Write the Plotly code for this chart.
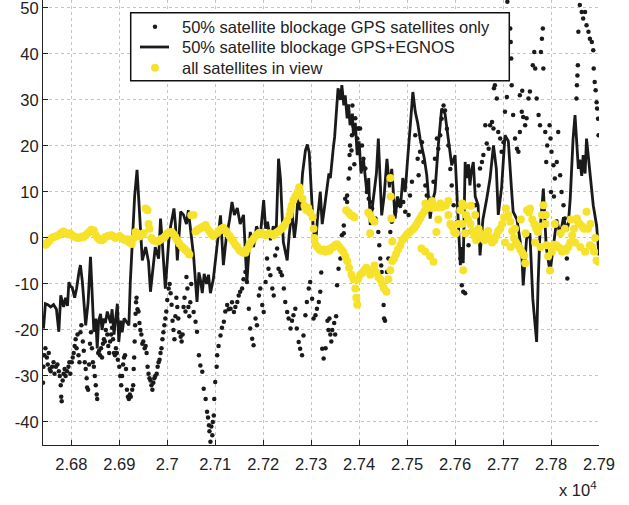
import plotly.graph_objects as go

# ---------------- data (time in s, error in m) ----------------
# 50% satellite blockage, GPS satellites only (black dots)
gps_t = [26741,26742,26744,26746,26749,26751,26753,26755,26757,26760,26763,26765,26768,26771,26774,26776,26778,26779,26780,26782,
 26784,26786,26788,26791,26794,26796,26798,26801,26803,26805,26807,26809,26811,26813,26815,26817,26819,26821,26824,26826,
 26828,26830,26832,26833,26835,26837,26839,26841,26843,26845,26847,26849,26851,26853,26854,26856,26858,26860,26862,26864,
 26866,26868,26870,26872,26875,26877,26879,26881,26883,26885,26887,26889,26891,26893,26895,26897,26900,26902,26904,26906,
 26908,26910,26912,26914,26916,26918,26920,26922,26924,26927,26929,26930,26931,26932,26933,26934,26935,26936,26938,26940,
 26942,26944,26946,26948,26950,26953,26955,26957,26959,26961,26963,26965,26967,26969,26971,26973,26975,26978,26980,26982,
 26984,26986,26988,26990,26992,26994,26996,26998,27000,27003,27005,27007,27009,27011,27013,27015,27017,27019,27021,27023,
 27025,27028,27030,27032,27034,27036,27038,27040,27042,27044,27046,27048,27050,27055,27059,27062,27066,27069,27073,27076,
 27080,27083,27085,27087,27088,27090,27092,27094,27095,27097,27098,27100,27103,27104,27107,27111,27114,27118,27121,27125,
 27128,27132,27135,27139,27142,27146,27149,27152,27156,27159,27163,27166,27170,27173,27177,27180,27184,27187,27191,27194,
 27198,27201,27205,27208,27211,27215,27219,27222,27225,27229,27232,27236,27239,27243,27246,27250,27253,27257,27260,27263,
 27267,27270,27274,27277,27281,27284,27288,27291,27295,27298,27302,27305,27309,27312,27316,27319,27321,27323,27326,27330,
 27334,27336,27338,27340,27342,27344,27348,27350,27352,27354,27357,27361,27364,27368,27371,27375,27378,27380,27381,27385,
 27386,27388,27392,27396,27399,27402,27406,27409,27413,27416,27420,27423,27427,27434,27440,27442,27444,27446,27447,27449,
 27451,27452,27454,27458,27461,27465,27468,27475,27479,27486,27492,27496,27503,27506,27510,27517,27522,27524,27527,27531,
 27534,27538,27541,27548,27555,27558,27562,27565,27569,27572,27576,27579,27583,27586,27590,27593,27597,27604,27611,27614,
 27617,27621,27628,27631,27642,27649,27652,27656,27659,27663,27666,27670,27673,27677,27680,27681,27683,27687,27690,27694,
 27697,27701,27704,27708,27709,27715,27716,27717,27718,27721,27725,27729,27732,27735,27739,27742,27746,27749,27753,27756,
 27762,27765,27767,27770,27774,27777,27779,27781,27783,27784,27788,27790,27792,27797,27799,27801,27805,27808,27812,27815,
 27819,27822,27826,27829,27833,27834,27853,27854,27855,27856,27857,27860,27864,27867,27871,27874,27878,27881,27885,27888,
 27889,27891,27893,27895,27896,27898,27899,27368,27375,27381,27384,27390,27398,27735,27740,27800,27806]
gps_err = [-31.5,-28,-25.5,-24,-26,-27.5,-25,-28.5,-29,-28,-27,-29.5,-28,-27.5,-29,-30,-32,-34.5,-35.5,-31,
 -29.5,-28.5,-30,-29,-28,-27,-29.5,-27,-26,-25,-23.5,-22,-24,-21,-25.5,-27,-20.5,-19,-22.5,-24.5,
 -27,-28.5,-30.5,-32.5,-33,-27.5,-23,-20.5,-24,-27,-28,-30,-32,-34,-35,-25,-24.5,-25.5,-24,-26,
 -23,-22,-22.5,-20,-21,-23.5,-25,-22.5,-21,-19.5,-22,-25,-25.5,-24,-25,-26.5,-28,-30,-32,-30,
 -27.5,-26,-25.5,-28.5,-33,-34.5,-35,-34,-34.5,-33,-32,-28.5,-26,-22.5,-19,-16.5,-14,-13,-15.5,-16,
 -18.5,-20,-21,-23,-22.5,-24,-23.5,-25,-28,-29.5,-30.5,-31,-32,-33,-31.5,-30.5,-30,-29.5,-28,-27,
 -26.5,-25,-24,-22,-20.5,-19,-17.5,-16,-13.5,-11,-10,-12,-14.5,-18,-20,-22,-17,-13,-15,-17.5,
 -20.5,-21.5,-22.5,-21,-15,-13,-16,-8.5,-11,-15,-17,-14,-10,-16.1,-18.2,-20.4,-25.5,-27.7,-29.1,-32.8,
 -35,-37.8,-39,-40.7,-42,-44.3,-41,-42.9,-40,-38.6,-35,-31.3,-28,-25.5,-23.5,-21.2,-19.5,-18.2,-16,-14.6,
 -15.5,-15.4,-14,-16.1,-15,-13.9,-12.5,-11.7,-11,-9,-7.4,-9.6,-15.4,-19.7,-21.9,-23.3,-17.5,-19,-12.5,-11,
 -14.6,-16.1,-9.6,-4.5,-6.7,-8.1,-11,-12.5,-3.8,-2.3,-6.7,-7.4,-8.1,-11,-13.9,-16.1,-17.5,-19.7,-18,-16.8,
 -15.4,-19.7,-22.6,-24.1,-25.5,-21.2,-16.8,-13.9,-11,-9.6,-13.2,-17.5,-16.8,-15.4,-13.9,-11.7,-7.5,-24.1,-26.2,-24,
 -18,-20,-17.5,-21,-22.5,-20,-18.5,-21,-17,-10.3,-6.7,-4.5,0.6,2.7,8.5,9.2,12.9,18,15.1,22.3,
 28.8,24.4,26,21.6,23.8,23.8,20.1,17.2,15.1,10,8.5,7.8,6.4,4.2,1.3,-1.6,-4.5,-6,-7.4,-11,
 -14.6,-17.5,-18,-7.4,-4.5,1.3,3.5,5.7,7.1,7.1,7.8,5.7,5,9.2,12.2,22.3,17.2,13.6,18.7,20.8,
 16.5,11.4,9.2,8.5,12.2,17.2,21.6,19.4,22.3,25.9,28.8,27.7,23.7,20.1,15,11.4,7.1,3.5,-4.5,-10.3,
 -11.7,-12,-1.6,1.3,7.1,11.4,15.1,16.5,18,24.5,20.5,19.4,24.5,25.2,23.8,32.5,33.2,30.3,23,21.6,
 18.7,20.8,27.4,30.6,51.3,45.5,42.6,39,33.2,26.7,21.6,19.4,18.7,23,27.4,26.3,24.5,26,30.3,31.8,
 37.5,40.4,36.8,30.3,26.7,24.5,40.4,43.3,45.5,36.8,23,16.5,20.1,24.5,21.6,18.7,15.8,12.9,16.5,23,
 13.6,10,7.1,4.2,-4.5,-8.8,30.3,33.2,35.3,37.5,44.8,50.6,49.1,47.7,49.1,46.2,44.8,43.3,42.6,40.8,
 36.8,33.9,32.1,29.5,28.1,25.9,22.3,1,7.8,20.1,19,16,23.8,31,32,10,9]

# 50% satellite blockage, GPS+EGNOS (black line)
egnos_t = [26742,26746,26751,26757,26763,26769,26774,26778,26784,26788,26792,26795,26798,26802,26807,26811,26816,26819,26823,26826,
 26830,26835,26840,26843,26847,26851,26854,26857,26861,26864,26868,26871,26875,26882,26885,26889,26892,26896,26899,26903,
 26906,26910,26917,26920,26923,26927,26932,26937,26940,26944,26948,26955,26961,26965,26971,26975,26982,26986,26990,26996,
 27003,27007,27014,27017,27021,27024,27028,27034,27040,27044,27048,27055,27062,27066,27069,27073,27077,27082,27086,27090,
 27096,27103,27107,27111,27117,27123,27130,27135,27140,27146,27152,27159,27166,27169,27173,27180,27186,27194,27201,27205,
 27209,27215,27221,27227,27232,27236,27242,27250,27254,27260,27265,27269,27273,27277,27282,27288,27292,27296,27300,27304,
 27309,27313,27319,27323,27327,27333,27337,27340,27343,27346,27349,27354,27356,27361,27364,27368,27371,27375,27378,27381,
 27386,27388,27392,27396,27400,27404,27409,27416,27420,27423,27429,27436,27440,27444,27447,27452,27458,27463,27468,27472,
 27475,27480,27486,27491,27496,27501,27506,27512,27517,27522,27527,27532,27536,27541,27545,27548,27553,27558,27565,27572,
 27579,27586,27593,27600,27604,27607,27611,27614,27617,27621,27624,27628,27631,27634,27638,27642,27648,27652,27658,27666,
 27673,27680,27686,27690,27697,27704,27711,27718,27721,27729,27733,27739,27742,27749,27756,27762,27766,27770,27773,27777,
 27784,27790,27798,27805,27812,27819,27826,27833,27836,27840,27846,27850,27853,27857,27860,27864,27867,27871,27874,27881,
 27888,27895,27900]
egnos_err = [-19.7,-14.3,-14.5,-15,-14.5,-15.5,-20.4,-12.5,-15,-13,-14.8,-9.6,-10.5,-10.8,-13,-11,-7.4,-5.9,-9.5,-13.2,
 -19,-14,-4.1,-11,-20.4,-17.5,-24,-18,-16.5,-20,-17.5,-18.5,-16,-18.5,-15.5,-21,-17.5,-14.3,-22.6,-18,
 -20.5,-17.5,-18.5,-19,-9.6,-2,9,14.8,10,3,-4.9,-2,-5.2,-11.7,-5,-2,-4.5,4.2,-1.5,-11,
 -0.8,2.5,6.4,3,-4.9,0.5,5.7,5,3,6,2,-4,-13.9,-7.5,-9,-12,-7.8,-10,-8,-12,
 -9,-2,2,4.9,-5.9,0,4,7.8,5,6.5,3,5,-9.6,-4,1.3,-2,2.5,0.5,8.2,2,
 3.5,-0.5,2.5,1,17.2,12.9,-0.9,-4.9,0.5,6,0,3.5,10,6,14,19,20.3,18.5,10,2.9,
 -2,4,10,3,6,11.4,14,13,17,19.4,22,31,32.5,30,33.2,28.8,31,26,29,24.5,
 27,22.3,25,18,21,14,17,10,13,2.8,8,14,21.6,12,4.9,9,17.2,11,15,9,
 4.2,9,6.5,13,10,17,23,31.7,27.4,25,21.6,19,17.2,13.6,9,4.2,8,10,20.1,28.1,
 27,21,15.8,18,9,1.3,-5.9,-2,-5.5,16.5,13,16,11.4,14.5,16.5,9,7.1,-3.8,4,8.5,
 13,20.1,15,5,11,22.3,21,10,5.7,4,1,-3.1,-10.3,-0.2,1,-13.2,-18,-22.6,-10,1.3,
 10.7,-2,-7.4,-2,4,0.5,4.5,1.5,3,8.5,21.6,26.7,21,15,17,13.5,18,14,21.6,15,
 7.1,2.7,-3.8]

# all satellites in view (yellow dots)
all_t = [26742,26747,26751,26755,26759,26763,26767,26772,26776,26780,26784,26788,26792,26797,26801,26805,26809,26813,26817,26822,
 26826,26830,26834,26838,26842,26847,26851,26855,26859,26863,26867,26871,26876,26880,26884,26888,26892,26896,26901,26905,
 26909,26913,26917,26921,26926,26930,26934,26938,26942,26946,26951,26955,26959,26961,26963,26967,26971,26976,26980,26984,
 26988,26992,26996,27000,27005,27009,27013,27017,27021,27025,27030,27034,27038,27042,27046,27050,27055,27059,27063,27067,
 27071,27075,27080,27084,27088,27092,27096,27100,27105,27109,27113,27117,27121,27125,27130,27134,27138,27142,27146,27150,
 27155,27159,27163,27167,27171,27175,27180,27184,27188,27192,27196,27200,27205,27209,27213,27217,27221,27226,27230,27234,
 27238,27242,27246,27250,27255,27257,27259,27263,27267,27271,27275,27277,27282,27286,27290,27294,27298,27303,27305,27307,
 27309,27313,27317,27321,27325,27330,27334,27338,27342,27346,27350,27354,27359,27363,27367,27371,27375,27379,27384,27388,
 27392,27394,27396,27398,27402,27407,27411,27415,27419,27423,27428,27432,27436,27440,27444,27448,27452,27457,27461,27465,
 27469,27473,27477,27481,27486,27490,27494,27498,27502,27506,27511,27515,27519,27523,27527,27531,27536,27540,27544,27548,
 27552,27556,27561,27565,27569,27573,27577,27581,27586,27590,27594,27598,27602,27606,27611,27615,27619,
 27373,27378,27382,27386,27390,27419,27423,27428,27432,27465,27466,27467,27469,27423,27530,27538,27548,27555,27561,27565,
 27538,27552,27569,27586,
 27615,27617,27621,27623,27627,27632,27633,27636,27640,27642,27644,27648,27649,27652,27656,27661,27665,27669,27673,27677,
 27682,27686,27690,27694,27698,27702,27704,27706,27711,27715,27716,27719,27723,27725,27727,27731,27736,27737,27740,27744,
 27746,27747,27750,27754,27756,27761,27765,27767,27769,27773,27777,27778,27781,27784,27788,27789,27791,27794,27798,27802,
 27806,27808,27811,27815,27819,27820,27823,27827,27829,27831,27836,27840,27841,27844,27848,27850,27854,27856,27860,27861,
 27865,27869,27871,27874,27877,27881,27882,27886,27890,27892,27895,27899]
all_err = [-1.2,-1.5,-1,-0.5,0,0.2,0.3,0.5,0.8,1.2,1.4,1,0.8,1,0.6,0.3,0.2,0,0,0.3,
 0.2,0.6,1,1.4,1.8,1.6,0.6,0,-0.4,-0.5,-0.3,0.2,0.4,0.5,0.6,0.3,0,0.2,0.4,0,
 -0.3,-0.5,-0.3,-1,-1.3,0,1.3,1,0.3,0.6,1,6.4,6,3,2,0,-0.5,-0.7,-0.8,-0.5,
 -0.2,0,0.4,1,1.2,1.3,0.8,0.2,-0.5,-1.2,-1.8,-2.2,-2.6,-3,-3.6,4.9,5,1.4,1.8,2,
 2.2,2.5,2.8,2,1.4,0.8,0.4,0.8,1.2,1.6,2,2.2,1.6,1,0.4,-0.2,-0.8,-1.5,-2,-2.6,
 -3,-3.2,-3.2,-2.4,-1.6,-0.8,-0.2,0.4,0.8,1.1,1,0.8,0.6,0.8,1,0.8,0.6,1,1.3,1.6,
 2,2.5,3,3.8,5,6,7,8.2,9,9.8,11,10,8.5,7,6,6.5,5.5,4.5,2,0,
 -1.5,-2,-2.5,-2.8,-2.5,-3,-2.5,-2.8,-2.2,-2,-1.6,-1.4,-2,-2.5,-3,-4,-5,-6.5,-8,-9,
 -11,-13,-14.5,-9,-8,-7.5,-7,-6.5,-7,-8,-7,-6,-7.5,-8.5,-9,-10,-11,-11.7,-9,-7,
 -5,-4.5,-3.5,-2.5,-1.6,-0.5,0,0.5,1,1.3,1.8,2.2,2.8,3.5,4.2,5,5.8,6.4,6.6,6.8,
 6.5,6.6,6.8,6.6,6.8,6.7,7,7.1,5,3,2.5,1.3,1,3,6,7.5,7,
 6,5.5,5,4.8,4.5,5.5,5,4,3.5,13,9,4.2,-0.8,1,-2.3,-3,-4,-5.2,1.3,4,
 7.5,8,7.5,8,
 3,-7,1,5,4,3,7,1.5,0.5,5,-0.5,0,2,1,0,-0.5,0.5,1.5,0,-1,
 -0.5,0.5,1.5,2,3,4.5,-1,6.4,5,3.5,-2,1.5,0,2,-1,-1.6,-2.5,4,-3.2,-3.8,
 -5.5,1,6,5.5,6.4,4,3,-1,2,1.3,2.5,-2,5,7.1,3,5,-1.6,-4,-7.1,-3,
 -1.5,3,-1.6,-2,-2.3,1,-3,-2.5,2,-2.8,-2,-1,4,0.5,2,-1,4.2,3.5,3,-2,
 2.5,2,-3,5.7,2,-1.6,3,-2,-3,0,-4.9,-5.2]

x_tickvals = [26800, 26900, 27000, 27100, 27200, 27300, 27400, 27500, 27600, 27700, 27800, 27900]
x_ticktext = ["2.68", "2.69", "2.7", "2.71", "2.72", "2.73", "2.74", "2.75", "2.76", "2.77", "2.78", "2.79"]
y_tickvals = [-40, -30, -20, -10, 0, 10, 20, 30, 40, 50]
y_ticktext = ["-40", "-30", "-20", "-10", "0", "10", "20", "30", "40", "50"]

series_names = ["50% satellite blockage GPS satellites only",
                "50% satellite blockage GPS+EGNOS",
                "all satellites in view"]

FONT = "Liberation Sans, Arial, Helvetica, sans-serif"
BLACK = "#1a1a1a"
YELLOW = "#f7e22b"
TXT = "#222222"

# plot area in pixels (for placing the legend box)
L, R, T, B = 43, 599, 0, 445
def px_x(p):
    return (p - L) / (R - L)
def px_y(p):
    return (B - p) / (B - T)

fig = go.Figure()
fig.add_trace(go.Scatter(
    x=gps_t, y=gps_err, mode="markers", name=series_names[0], showlegend=False,
    marker=dict(color=BLACK, size=4.5, line=dict(width=0)),
))
fig.add_trace(go.Scatter(
    x=egnos_t, y=egnos_err, mode="lines", name=series_names[1], showlegend=False,
    line=dict(color=BLACK, width=2.8),
))
fig.add_trace(go.Scatter(
    x=all_t, y=all_err, mode="markers", name=series_names[2], showlegend=False,
    marker=dict(color=YELLOW, size=8, line=dict(width=0)),
))

# legend drawn as box + symbols + text
row_y = [26.7, 47.0, 67.7]
sym_x = 155
shapes = [
    dict(type="rect", xref="paper", yref="paper",
         x0=px_x(130.7), x1=px_x(509.3), y0=px_y(80.7), y1=px_y(12.7),
         fillcolor="white", line=dict(color="#111111", width=1.5), layer="above"),
    dict(type="circle", xref="paper", yref="paper", xsizemode="pixel", ysizemode="pixel",
         xanchor=px_x(sym_x), yanchor=px_y(row_y[0]), x0=-2.2, x1=2.2, y0=-2.2, y1=2.2,
         fillcolor=BLACK, line=dict(width=0), layer="above"),
    dict(type="line", xref="paper", yref="paper",
         x0=px_x(140), x1=px_x(169), y0=px_y(row_y[1]), y1=px_y(row_y[1]),
         line=dict(color=BLACK, width=2.8), layer="above"),
    dict(type="circle", xref="paper", yref="paper", xsizemode="pixel", ysizemode="pixel",
         xanchor=px_x(sym_x), yanchor=px_y(row_y[2]), x0=-4, x1=4, y0=-4, y1=4,
         fillcolor=YELLOW, line=dict(width=0), layer="above"),
]
annotations = [
    dict(text=series_names[i], xref="paper", yref="paper",
         x=px_x(180), y=px_y(row_y[i]), xanchor="left", yanchor="middle",
         showarrow=False, font=dict(family=FONT, size=16.5, color=TXT))
    for i in range(3)
]
annotations.append(dict(
    text="x 10<sup>4</sup>", xref="paper", yref="paper",
    x=1.0, y=px_y(489), xanchor="right", yanchor="middle",
    showarrow=False, font=dict(family=FONT, size=16.5, color=TXT),
))

fig.update_layout(
    width=629, height=505,
    margin=dict(l=L, r=629 - R, t=T, b=505 - B),
    paper_bgcolor="white", plot_bgcolor="white",
    font=dict(family=FONT, size=16.5, color=TXT),
    showlegend=False,
    xaxis=dict(
        range=[26741, 27900],
        tickvals=x_tickvals, ticktext=x_ticktext,
        showgrid=True, gridcolor="#c4c4c4", griddash="dot", gridwidth=1,
        showline=True, linecolor=TXT, linewidth=1.2,
        ticks="inside", ticklen=5, tickcolor=TXT,
        zeroline=False, ticklabelstandoff=4, ticklabeloverflow="allow",
    ),
    yaxis=dict(
        range=[-45, 51.7],
        tickvals=y_tickvals, ticktext=y_ticktext,
        showgrid=True, gridcolor="#c4c4c4", griddash="dot", gridwidth=1,
        showline=True, linecolor=TXT, linewidth=1.2,
        ticks="inside", ticklen=5, tickcolor=TXT,
        zeroline=False, ticklabeloverflow="allow",
    ),
    shapes=shapes,
    annotations=annotations,
)

fig.write_html("out.html")
